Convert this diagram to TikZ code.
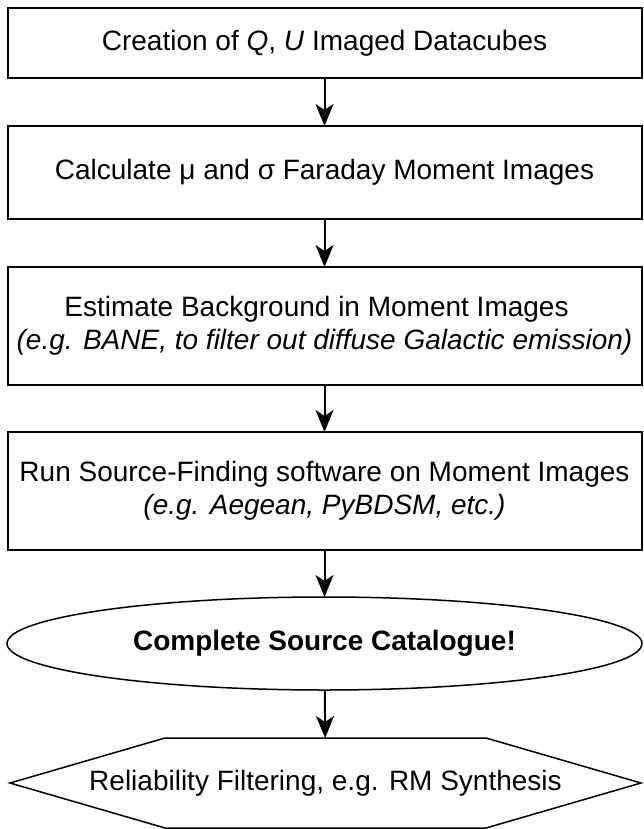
\documentclass[tikz,border=0pt]{standalone}
\usepackage{fontspec}
\setmainfont{Liberation Sans}
\usetikzlibrary{arrows.meta,shapes.geometric}
\begin{document}
\begin{tikzpicture}[x=1pt,y=-1pt,
  txt/.style={font=\fontsize{28}{33}\selectfont, align=center, inner sep=0pt, outer sep=0pt},
  box/.style={txt, draw, line width=2pt, rectangle, minimum width=634pt},
  arr/.style={line width=2pt, -{Stealth[length=22pt,width=18pt,inset=6pt]}},
  thin/.style={line width=1.5pt, line join=miter}]
\fill[white] (0,0) rectangle (643,829);
\useasboundingbox (0,0) rectangle (643,829);

\node[box, minimum height=70pt] (b1) at (324.5,43)
  {Creation of \textit{Q}, \textit{U} Imaged Datacubes};
\node[box, minimum height=93pt] (b2) at (324.5,172.5)
  {Calculate μ and σ Faraday Moment Images};
\node[box, minimum height=118pt] (b3) at (324.5,326)
  {Estimate Background in Moment Images\hspace*{16pt}\\
   \textit{(e.g. BANE, to filter out diffuse Galactic emission)}};
\node[box, minimum height=118pt] (b4) at (324.5,491)
  {Run Source-Finding software on Moment Images\\
   \textit{(e.g. Aegean, PyBDSM, etc.)}};
\node[txt, ellipse, draw, line width=1.5pt, minimum width=635pt, minimum height=93pt,
  font=\fontsize{28}{33}\selectfont\bfseries] (ell) at (324.5,643.5)
  {Complete Source Catalogue!};
\node[inner sep=0pt, outer sep=0pt, minimum width=321pt, minimum height=90pt] (hex) at (325.5,783) {};
\node[txt] (hextxt) at (hex.center) {Reliability Filtering, e.g. RM Synthesis};
\draw[thin] (hex.north west) -- (hex.north east) -- ++(155,45) -- ++(-155,45)
  -- (hex.south west) -- ++(-155,-45) -- cycle;

\draw[arr] (b1) -- (b2);
\draw[arr] (b2) -- (b3);
\draw[arr] (b3) -- (b4);
\draw[arr] (b4) -- (ell);
\draw[arr] (ell) -- (hex);
\end{tikzpicture}
\end{document}
